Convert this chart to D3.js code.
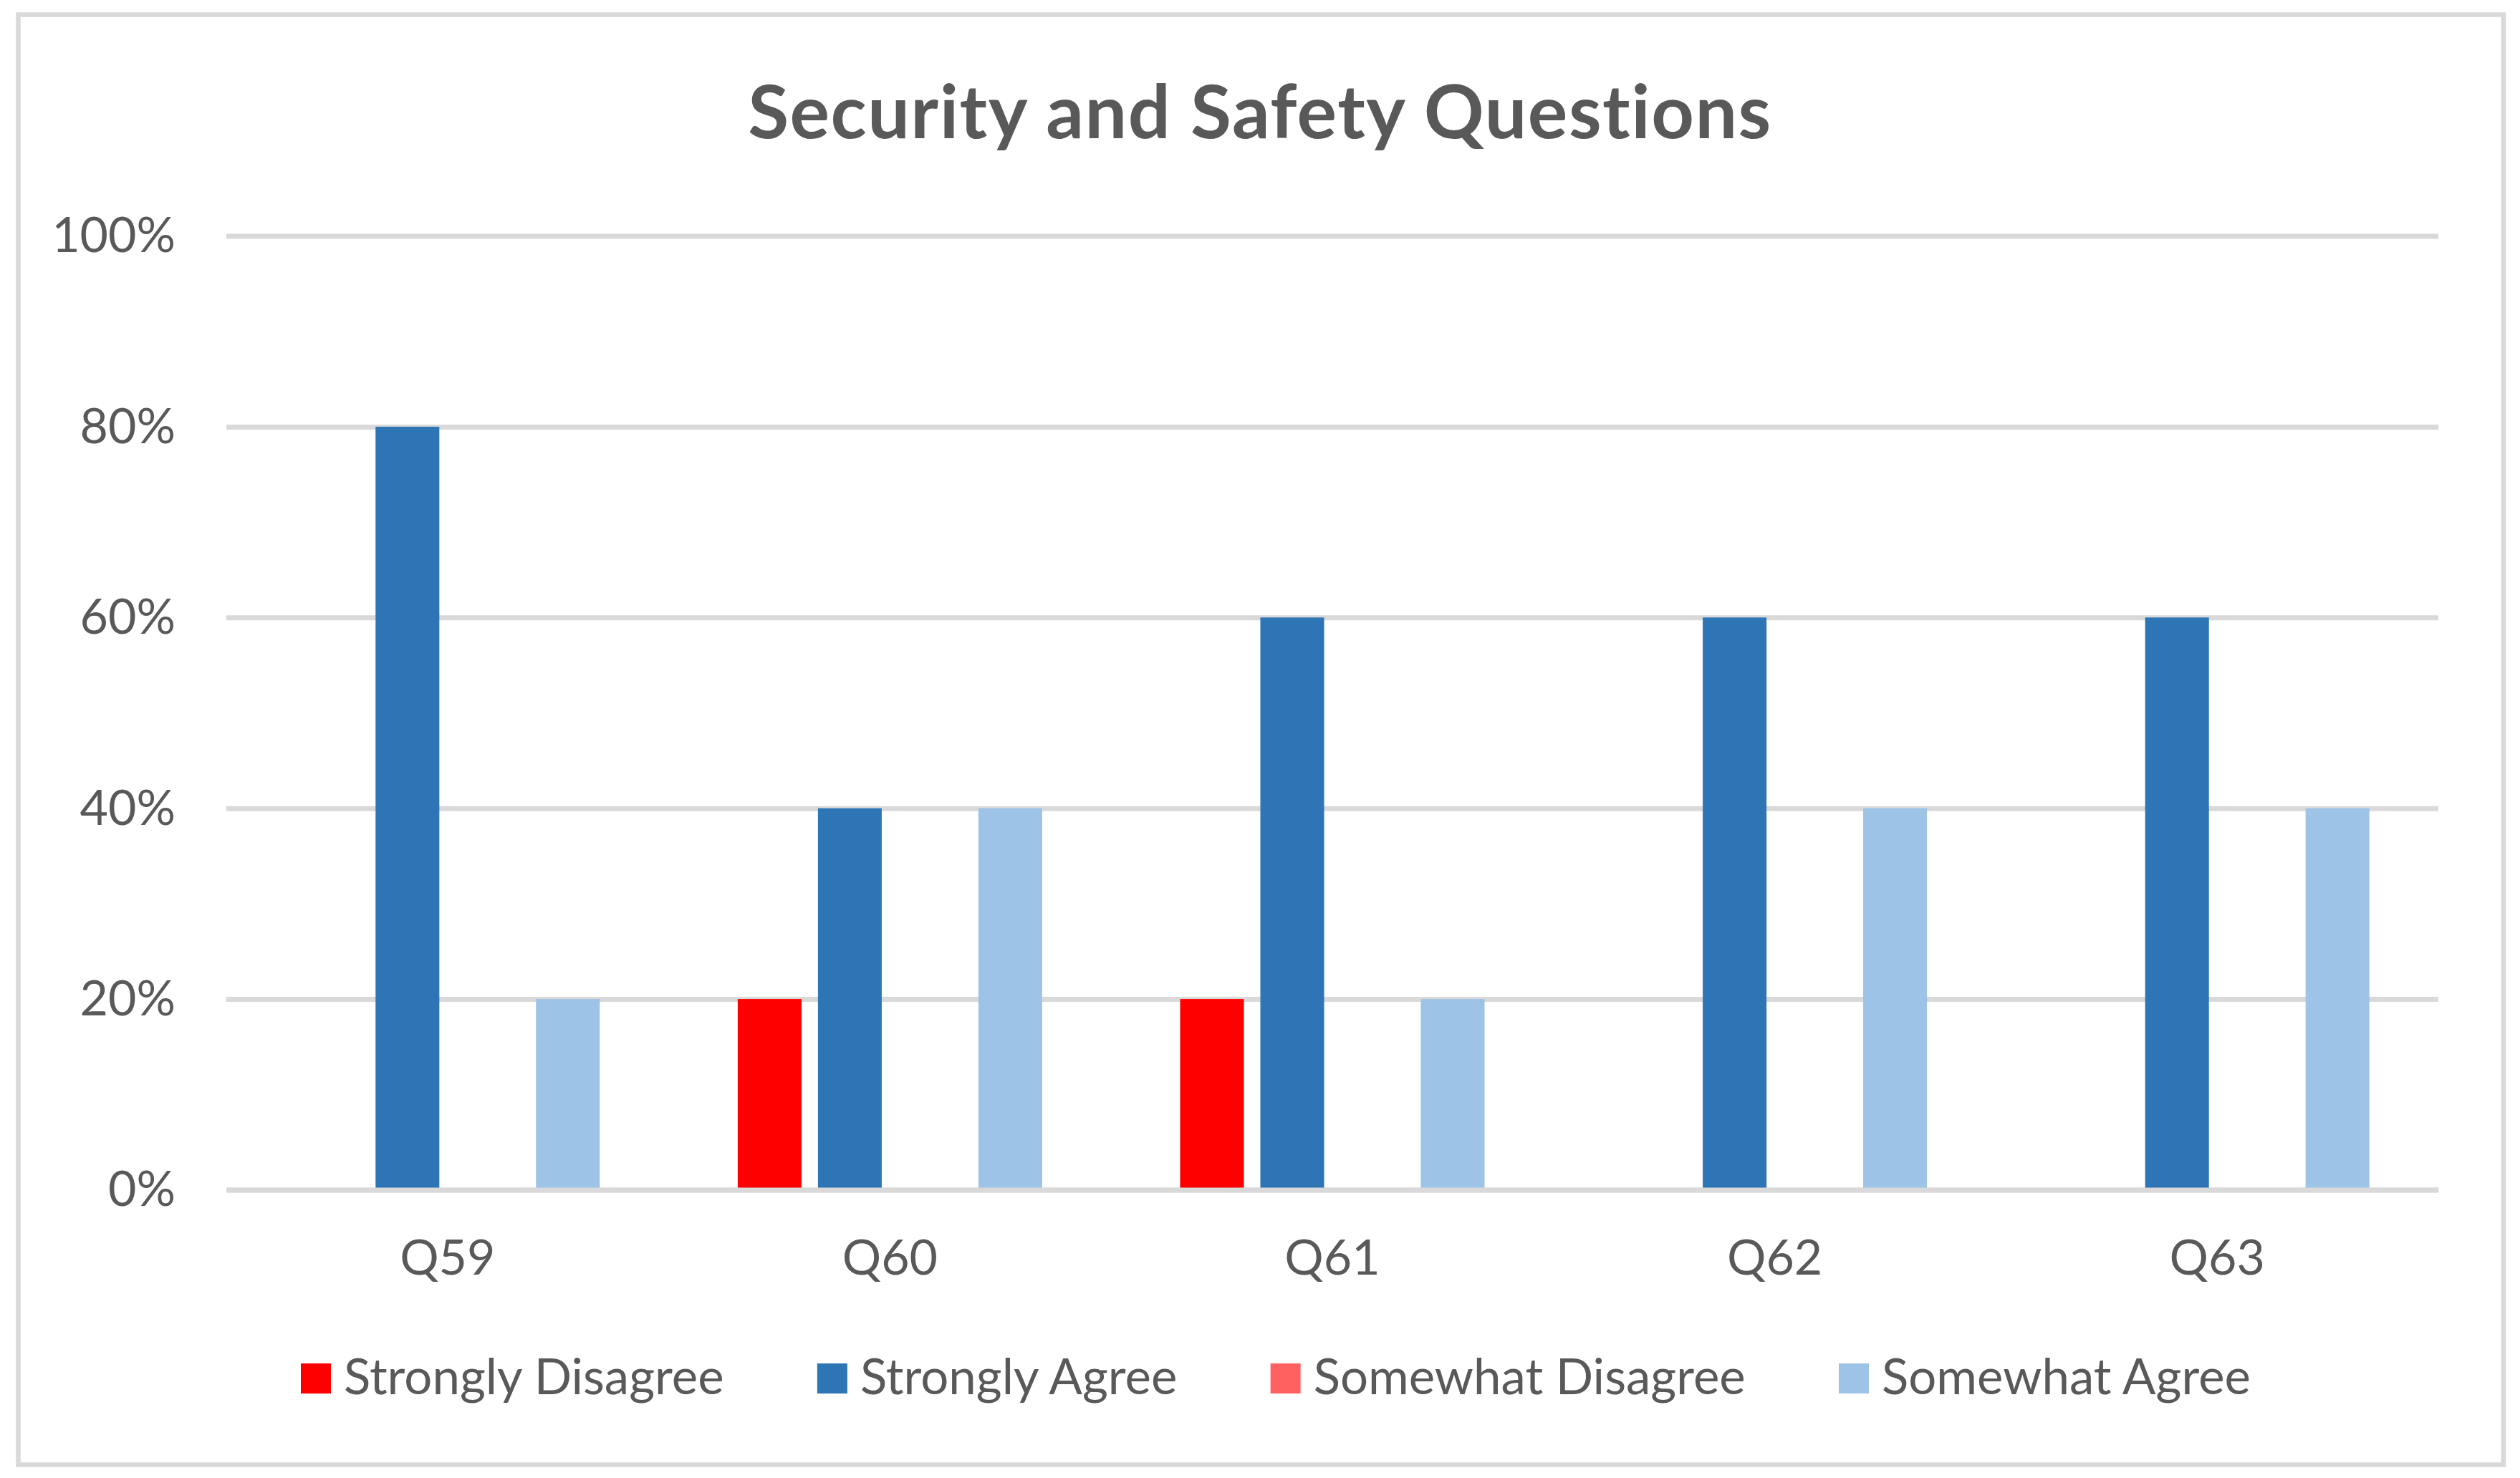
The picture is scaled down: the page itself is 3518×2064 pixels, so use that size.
<!DOCTYPE html>
<html>
<head>
<meta charset="utf-8">
<script src="https://cdn.jsdelivr.net/npm/d3@7"></script>
<style>
  body { margin: 0; background: #fff; }
  text { font-family: Lato, "Open Sans", sans-serif; fill: #595959; font-variant-ligatures: none; }
</style>
</head>
<body>
<div id="chart"></div>
<script>
const categories = ["Q59", "Q60", "Q61", "Q62", "Q63"];
const seriesNames = ["Strongly Disagree", "Strongly Agree", "Somewhat Disagree", "Somewhat Agree"];
const stronglyDisagree = [0, 20, 20, 0, 0];
const stronglyAgree = [80, 40, 60, 60, 60];
const somewhatDisagree = [0, 0, 0, 0, 0];
const somewhatAgree = [20, 40, 20, 40, 40];
const yTicks = [0, 20, 40, 60, 80, 100];
const colors = ["#FF0000", "#2E75B6", "#FF6161", "#9DC3E6"];

const seriesValues = [stronglyDisagree, stronglyAgree, somewhatDisagree, somewhatAgree];

const w = 3518;
const h = 2064;
const plot = { left: 316, right: 3404, top: 329.5, bottom: 1661.5 };
const gridColor = "#D9D9D9";

const svg = d3.select("#chart")
              .append("svg")
              .attr("width", w)
              .attr("height", h);

// chart frame
svg.append("rect")
   .attr("x", 25.5)
   .attr("y", 20.5)
   .attr("width", 3469.5)
   .attr("height", 2025)
   .attr("fill", "#fff")
   .attr("stroke", gridColor)
   .attr("stroke-width", 6.5);

svg.append("text")
   .attr("x", 1759)
   .attr("y", 193)
   .attr("text-anchor", "middle")
   .style("font-size", "104px")
   .style("font-weight", "bold")
   .style("letter-spacing", "1.5px")
   .text("Security and Safety Questions");

const x0 = d3.scaleBand()
             .domain(categories)
             .range([plot.left, plot.right]);

const x1 = d3.scaleBand()
             .domain(seriesNames)
             .range([0, x0.bandwidth()])
             .paddingInner(0.205)
             .paddingOuter(0.86);

const y = d3.scaleLinear()
            .domain([0, 100])
            .range([plot.bottom, plot.top]);

const yAxis = d3.axisLeft(y)
                .tickValues(yTicks)
                .tickFormat(d => d + "%")
                .tickSize(-(plot.right - plot.left))
                .tickPadding(71);

const gy = svg.append("g")
              .attr("transform", `translate(${plot.left}, 0)`)
              .call(yAxis);
gy.select(".domain").remove();
gy.selectAll(".tick line")
  .attr("stroke", gridColor)
  .attr("stroke-width", 7);
gy.selectAll(".tick text")
  .attr("dy", "0.33em")
  .style("font-size", "68px")
  .style("font-family", "Lato, sans-serif")
  .attr("fill", "#595959");

// bars
const rows = categories.map((c, i) => ({
  cat: c,
  vals: seriesNames.map((s, j) => ({ name: s, value: seriesValues[j][i], color: colors[j] }))
}));

svg.append("g")
   .selectAll("g")
   .data(rows)
   .enter()
   .append("g")
   .attr("transform", d => `translate(${x0(d.cat)}, 0)`)
   .selectAll("rect")
   .data(d => d.vals.filter(v => v.value > 0))
   .enter()
   .append("rect")
   .attr("x", d => x1(d.name))
   .attr("y", d => y(d.value))
   .attr("width", x1.bandwidth())
   .attr("height", d => y(0) - y(d.value))
   .attr("fill", d => d.color);

const xAxis = d3.axisBottom(x0)
                .tickSize(0)
                .tickSizeOuter(0);

const gx = svg.append("g")
              .attr("transform", `translate(0, ${plot.bottom})`)
              .call(xAxis);
gx.select(".domain")
  .attr("stroke", gridColor)
  .attr("stroke-width", 7);
gx.selectAll(".tick text")
  .attr("y", 118.5)
  .attr("dy", 0)
  .style("font-size", "68px")
  .style("font-family", "Lato, sans-serif")
  .attr("fill", "#595959");

// legend
const legend = svg.append("g");
const items = legend.selectAll("g")
                    .data(seriesNames)
                    .enter()
                    .append("g");

items.append("rect")
     .attr("x", 0)
     .attr("y", 1904)
     .attr("width", 42)
     .attr("height", 42)
     .attr("fill", (d, i) => colors[i]);

items.append("text")
     .attr("x", 60)
     .attr("y", 1947)
     .style("font-size", "69px")
     .text(d => d);

const widths = [];
items.selectAll("text").each(function() { widths.push(this.getComputedTextLength()); });
const itemW = widths.map(tw => 60 + tw);
const legendStart = 420;
const legendWidth = 2722;
const gap = (legendWidth - d3.sum(itemW)) / (itemW.length - 1);
let cx = legendStart;
items.attr("transform", (d, i) => {
  const t = `translate(${cx}, 0)`;
  cx += itemW[i] + gap;
  return t;
});
</script>
</body>
</html>
